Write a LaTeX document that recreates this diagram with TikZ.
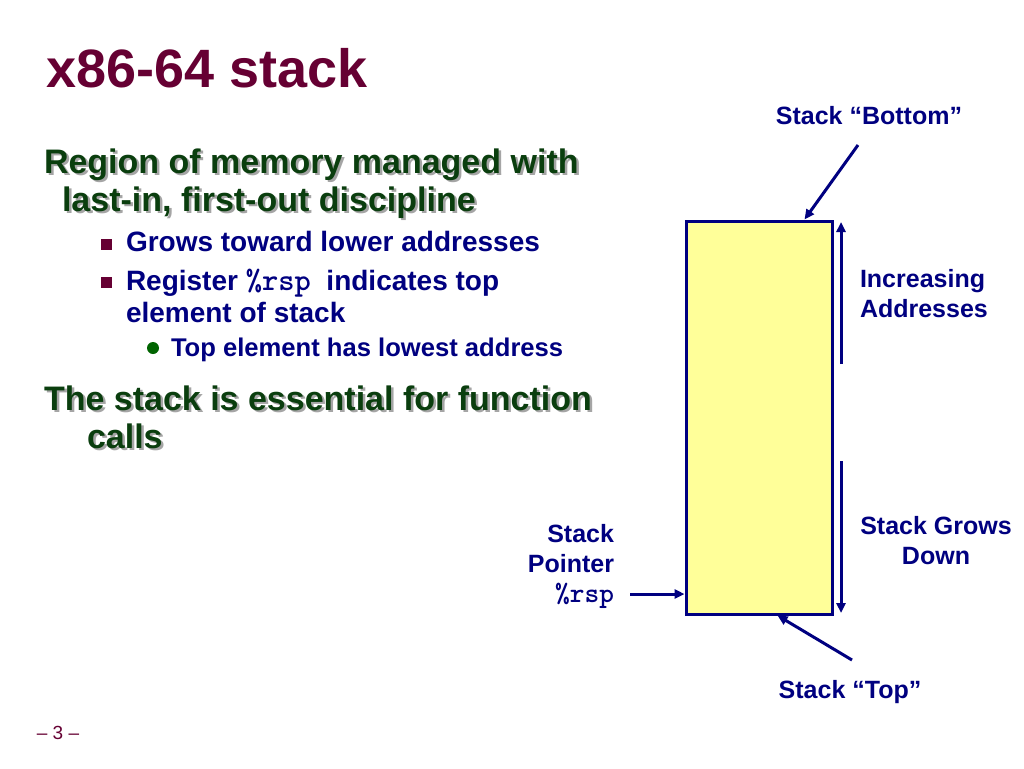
\documentclass[tikz,border=0pt]{standalone}
\usepackage{fontspec}
\setmainfont{Liberation Sans}
\usetikzlibrary{arrows.meta}
\definecolor{maroon}{RGB}{102,0,51}
\definecolor{navy}{RGB}{0,0,128}
\definecolor{dkgreen}{RGB}{10,62,14}
\definecolor{bulgreen}{RGB}{0,100,0}
\definecolor{shadowgray}{RGB}{165,165,165}
\definecolor{stackfill}{RGB}{255,255,153}
\newcommand{\regname}{{\fontsize{31}{32}\selectfont\ttfamily\bfseries\%rsp}}
\tikzset{
  txt/.style={inner sep=0pt, outer sep=0pt},
  head/.style={txt, anchor=base west, font=\fontsize{34}{39}\selectfont\bfseries, text=dkgreen},
  headshadow/.style={txt, anchor=base west, font=\fontsize{34}{39}\selectfont\bfseries, text=shadowgray},
  lvltwo/.style={txt, anchor=base west, font=\fontsize{28}{32}\selectfont\bfseries, text=navy},
  lvlthree/.style={txt, anchor=base west, font=\fontsize{25.6}{30}\selectfont\bfseries, text=navy},
  lab/.style={txt, font=\fontsize{25}{30}\selectfont\bfseries, text=navy},
  sqbullet/.style={fill=maroon, minimum size=11pt, inner sep=0pt, draw=none},
  dotbullet/.style={circle, fill=bulgreen, minimum size=12pt, inner sep=0pt, draw=none},
  arr/.style={draw=navy, line width=3pt, -{Triangle[length=10pt,width=9pt]}},
  stackbox/.style={draw=navy, line width=3pt, fill=stackfill, minimum width=146pt, minimum height=393pt, inner sep=0pt}
}
\begin{document}
\begin{tikzpicture}[x=1pt,y=-1pt]
\path[use as bounding box, fill=white] (0,0) rectangle (1024,768);

% title
\node[txt, anchor=base west, font=\fontsize{54}{60}\selectfont\bfseries, text=maroon] (title) at (46,87) {x86-64 stack};

% heading 1 with shadow
\node[headshadow] (h1s) at (46.5,175.5) {Region of memory managed with};
\node[head] (h1) at (44,173) {Region of memory managed with};
\node[headshadow] (h2s) at (64.5,213.5) {last-in, first-out discipline};
\node[head] (h2) at (62,211) {last-in, first-out discipline};

% bullets
\node[sqbullet] (b1) at (106,244) {};
\node[lvltwo] (l1) at (126,251) {Grows toward lower addresses};
\node[sqbullet] (b2) at (106,282.5) {};
\node[lvltwo] (l2) at (126,290) {Register \regname\ \ indicates top};
\node[lvltwo] (l3) at (126,322) {element of stack};
\node[dotbullet] (b3) at (153,348) {};
\node[lvlthree] (l4) at (171,356) {Top element has lowest address};

% heading 2
\node[headshadow] (h3s) at (46.5,412.5) {The stack is essential for function};
\node[head] (h3) at (44,410) {The stack is essential for function};
\node[headshadow] (h4s) at (89.5,450.5) {calls};
\node[head] (h4) at (87,448) {calls};

% stack box
\node[stackbox] (stack) at (759,417.5) {};

% labels
\node[lab, anchor=base] (bottomlab) at (869,124) {Stack “Bottom”};
\node[lab, anchor=north west, align=left] (inclab) at (860,269) {Increasing\\Addresses};
\node[lab, anchor=north, align=center] (growlab) at (936,516) {Stack Grows\\Down};
\node[lab, anchor=north east, align=right] (splab) at (614,524) {Stack\\Pointer\\{\fontsize{28}{30}\selectfont\ttfamily\bfseries\%rsp}};
\node[lab, anchor=base] (toplab) at (850,698) {Stack “Top”};

% connectors
\coordinate (bs) at (858,145);
\draw[arr] (bs) -- ([xshift=120pt]stack.north west);
\coordinate (ts) at (852,660);
\draw[arr] (ts) -- ([xshift=93pt]stack.south west);
\coordinate (rspc) at (630,594);
\draw[arr] (rspc) -- (rspc -| stack.west);
\coordinate (incA) at (841,364);
\coordinate (incB) at (841,222);
\draw[arr] (incA) -- (incB);
\coordinate (gdA) at (841,461);
\coordinate (gdB) at (841,613);
\draw[arr] (gdA) -- (gdB);

% page number
\node[txt, anchor=base, font=\fontsize{19}{22}\selectfont, text=maroon] (pagenum) at (58,739) {– 3 –};
\end{tikzpicture}
\end{document}
